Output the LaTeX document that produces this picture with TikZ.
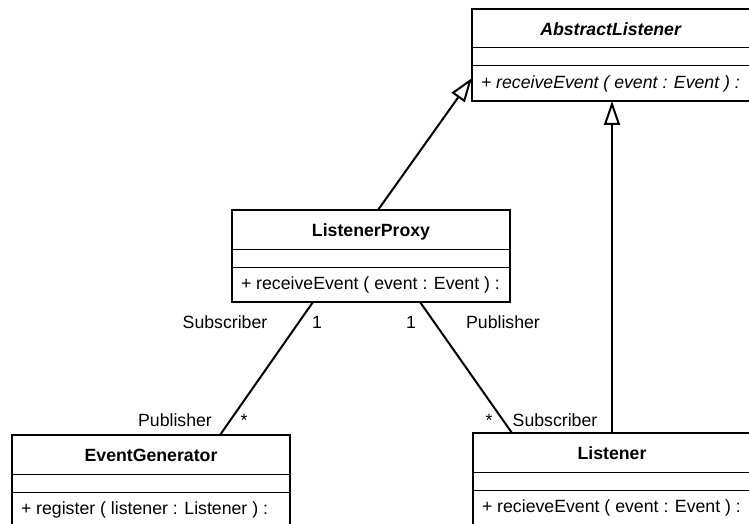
\documentclass[tikz,border=0pt]{standalone}
\usepackage{fontspec}
\setmainfont{Liberation Sans}
\usetikzlibrary{arrows.meta, shapes.multipart}

\newcommand{\classtitle}[1]{\makebox[260pt][c]{\rule[-11.5pt]{0pt}{37pt}#1}}
\newcommand{\classblank}{\rule{0pt}{16pt}}
\newcommand{\classop}[1]{\makebox[260pt][l]{\rule[-11.5pt]{0pt}{33pt}#1}}

\begin{document}
\begin{tikzpicture}[
  x=1pt, y=-1pt,
  font=\fontsize{17.7}{21}\selectfont,
  umlclass/.style={rectangle split, rectangle split parts=3, rectangle split draw splits=false,
                   draw, line width=2pt, anchor=north west, inner xsep=9pt, inner ysep=0pt,
                   outer sep=0pt},
  divider/.style={line width=1pt},
  inherit/.style={-{Triangle[open, length=24pt, width=16pt]}, line width=2pt},
  assoc/.style={line width=2pt},
  role/.style={anchor=base, inner sep=0pt}
]
\useasboundingbox (0,0) rectangle (749,524);
\clip (0,0) rectangle (749,524);

% classes
\node[umlclass] (abstract) at (472,9) {\classtitle{\textbf{\textit{AbstractListener}}}\nodepart{two}\classblank\nodepart{three}\classop{\textit{+ receiveEvent ( event : Event ) :}}};
\node[umlclass] (proxy) at (232,210) {\classtitle{\textbf{ListenerProxy}}\nodepart{two}\classblank\nodepart{three}\classop{+ receiveEvent ( event : Event ) :}};
\node[umlclass] (generator) at (12,435) {\classtitle{\textbf{EventGenerator}}\nodepart{two}\classblank\nodepart{three}\classop{+ register ( listener : Listener ) :}};
\node[umlclass] (listener) at (473,433) {\classtitle{\textbf{Listener}}\nodepart{two}\classblank\nodepart{three}\classop{+ recieveEvent ( event : Event ) :}};

\foreach \c in {abstract, proxy, generator, listener} {
  \draw[divider] (\c.text split west) -- (\c.text split east);
  \draw[divider] (\c.two split west) -- (\c.two split east);
}

% generalisation
\draw[inherit] ([xshift=146pt]proxy.north west) -- ([yshift=-69pt]abstract.north west);
\draw[inherit] (listener.north) -- (listener.north |- abstract.south);

% associations
\draw[assoc] ([xshift=81pt]proxy.south west) -- ([xshift=208pt]generator.north west);
\draw[assoc] ([xshift=188pt]proxy.south west) -- ([xshift=39pt]listener.north west);

% roles and multiplicities
\node[role] (proxysub) at (225,328) {Subscriber};
\node[role] (proxyleft) at (317,328) {1};
\node[role] (proxyright) at (411,328) {1};
\node[role] (proxypub) at (503,328) {Publisher};
\node[role] (genpub) at (175,426) {Publisher};
\node[role] (genmany) at (244,426) {*};
\node[role] (lismany) at (489,426) {*};
\node[role] (lissub) at (555,426) {Subscriber};
\end{tikzpicture}
\end{document}
